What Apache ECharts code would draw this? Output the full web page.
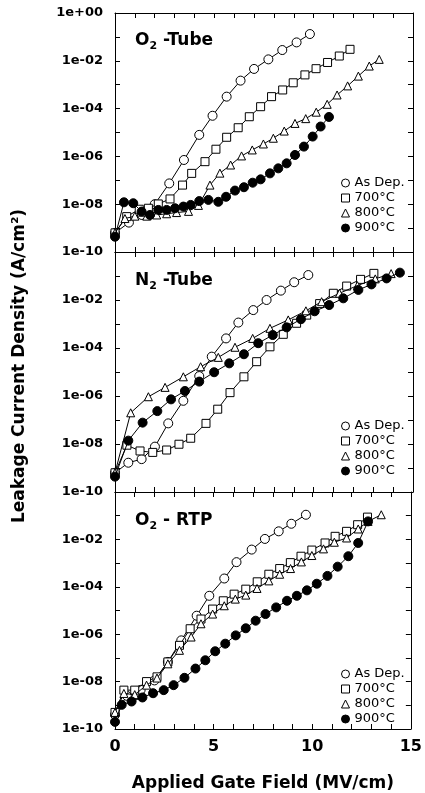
<!DOCTYPE html>
<html><head><meta charset="utf-8">
<script src="https://cdn.jsdelivr.net/npm/echarts@6/dist/echarts.min.js"></script>
<style>html,body{margin:0;padding:0;background:#fff}#c{width:425px;height:793px}</style>
</head><body><div id="c"></div><script>
// ---------- data (x: MV/cm, y: log10 of leakage current density A/cm^2) ----------
const seriesNames = ['As Dep.', '700°C', '800°C', '900°C'];
const panelTitles = ['O2 -Tube', 'N2 -Tube', 'O2 - RTP'];
const xTickLabels = [0, 5, 10, 15];
const yTickLabels = ['1e+00', '1e-02', '1e-04', '1e-06', '1e-08', '1e-10'];

// Panel 1: O2-Tube
const o2TubeAsDepX = [0, 0.7, 1.35, 2.0, 2.73, 3.47, 4.24, 4.91, 5.62, 6.32, 7.0, 7.72, 8.42, 9.14, 9.81];
const o2TubeAsDepY = [-9.2, -8.77, -8.45, -8.0, -7.13, -6.15, -5.10, -4.30, -3.50, -2.83, -2.34, -1.94, -1.55, -1.23, -0.88];
const o2Tube700X = [0, 0.59, 1.22, 1.68, 2.18, 2.77, 3.4, 3.86, 4.53, 5.08, 5.62, 6.2, 6.76, 7.33, 7.88, 8.44, 8.97, 9.56, 10.12, 10.7, 11.29, 11.83];
const o2Tube700Y = [-9.2, -8.52, -8.21, -8.17, -7.99, -7.78, -7.2, -6.71, -6.22, -5.70, -5.20, -4.80, -4.34, -3.92, -3.50, -3.22, -2.92, -2.59, -2.33, -2.07, -1.80, -1.52];
const o2Tube800X = [0, 0.5, 1.0, 1.6, 2.1, 2.6, 3.1, 3.7, 4.2, 4.78, 5.28, 5.82, 6.37, 6.91, 7.47, 7.97, 8.52, 9.06, 9.6, 10.13, 10.68, 11.18, 11.71, 12.25, 12.8, 13.3];
const o2Tube800Y = [-9.2, -8.6, -8.5, -8.5, -8.45, -8.4, -8.35, -8.3, -8.05, -7.2, -6.7, -6.36, -5.98, -5.73, -5.48, -5.24, -4.94, -4.62, -4.42, -4.15, -3.82, -3.43, -3.05, -2.64, -2.22, -1.94];
const o2Tube900X = [0, 0.45, 0.92, 1.34, 1.76, 2.18, 2.6, 3.02, 3.44, 3.81, 4.24, 4.7, 5.2, 5.59, 6.04, 6.49, 6.93, 7.33, 7.8, 8.22, 8.64, 9.06, 9.51, 9.95, 10.35, 10.77];
const o2Tube900Y = [-9.36, -7.92, -7.96, -8.31, -8.45, -8.24, -8.24, -8.17, -8.1, -8.03, -7.87, -7.82, -7.9, -7.69, -7.43, -7.29, -7.10, -6.96, -6.71, -6.5, -6.29, -5.94, -5.59, -5.17, -4.75, -4.35];

// Panel 2: N2-Tube
const n2TubeAsDepX = [0, 0.67, 1.34, 2.01, 2.68, 3.44, 4.24, 4.87, 5.59, 6.21, 6.96, 7.63, 8.35, 9.02, 9.73];
const n2TubeAsDepY = [-9.2, -8.78, -8.63, -8.11, -7.14, -6.2, -5.17, -4.36, -3.6, -2.94, -2.42, -2.0, -1.61, -1.26, -0.96];
const n2Tube700X = [0, 0.6, 1.26, 1.9, 2.6, 3.22, 3.81, 4.58, 5.17, 5.79, 6.49, 7.13, 7.8, 8.47, 9.14, 9.65, 10.3, 10.99, 11.66, 12.36, 13.03];
const n2Tube700Y = [-9.2, -8.05, -8.29, -8.35, -8.25, -8.01, -7.76, -7.14, -6.55, -5.86, -5.2, -4.57, -3.95, -3.43, -2.97, -2.63, -2.15, -1.72, -1.42, -1.14, -0.89];
const n2Tube800X = [0, 0.79, 1.68, 2.52, 3.44, 4.31, 5.2, 6.04, 6.93, 7.8, 8.72, 9.61, 10.4, 11.3, 12.2, 13.1, 13.9];
const n2Tube800Y = [-9.2, -6.7, -6.03, -5.64, -5.2, -4.78, -4.39, -3.97, -3.6, -3.18, -2.83, -2.45, -2.07, -1.72, -1.4, -1.12, -0.9];
const n2Tube900X = [0, 0.67, 1.39, 2.13, 2.82, 3.52, 4.24, 4.99, 5.75, 6.49, 7.21, 7.94, 8.64, 9.36, 10.05, 10.78, 11.49, 12.25, 12.91, 13.67, 14.34];
const n2Tube900Y = [-9.36, -7.86, -7.11, -6.63, -6.14, -5.79, -5.4, -5.01, -4.64, -4.26, -3.8, -3.46, -3.14, -2.8, -2.47, -2.21, -1.93, -1.58, -1.35, -1.1, -0.86];

// Panel 3: O2 - RTP
const o2RtpAsDepX = [0, 0.6, 1.3, 2.0, 2.68, 3.36, 4.14, 4.78, 5.54, 6.16, 6.93, 7.6, 8.3, 8.94, 9.68];
const o2RtpAsDepY = [-9.4, -8.6, -8.35, -7.95, -7.17, -6.26, -5.22, -4.38, -3.65, -2.96, -2.43, -1.98, -1.66, -1.34, -0.96];
const o2Rtp700X = [0, 0.45, 1.0, 1.6, 2.13, 2.68, 3.27, 3.81, 4.36, 4.95, 5.49, 6.04, 6.63, 7.21, 7.8, 8.35, 8.89, 9.43, 9.98, 10.65, 11.16, 11.74, 12.3, 12.8];
const o2Rtp700Y = [-9.3, -8.36, -8.36, -8.0, -7.8, -7.17, -6.47, -5.77, -5.36, -4.94, -4.59, -4.31, -4.1, -3.79, -3.47, -3.23, -2.98, -2.71, -2.45, -2.15, -1.87, -1.66, -1.38, -1.06];
const o2Rtp800X = [0, 0.45, 1.0, 1.6, 2.13, 2.68, 3.27, 3.86, 4.36, 4.95, 5.54, 6.1, 6.63, 7.2, 7.8, 8.35, 8.9, 9.45, 9.98, 10.57, 11.12, 11.74, 12.33, 12.83, 13.5];
const o2Rtp800Y = [-9.3, -8.5, -8.55, -8.15, -7.85, -7.25, -6.68, -6.12, -5.56, -5.15, -4.8, -4.52, -4.35, -4.07, -3.75, -3.47, -3.23, -2.95, -2.68, -2.4, -2.12, -1.94, -1.56, -1.24, -0.96];
const o2Rtp900X = [0, 0.34, 0.84, 1.39, 1.93, 2.47, 2.97, 3.52, 4.08, 4.58, 5.08, 5.59, 6.12, 6.63, 7.13, 7.63, 8.17, 8.72, 9.22, 9.73, 10.23, 10.77, 11.29, 11.83, 12.33, 12.83];
const o2Rtp900Y = [-9.7, -8.98, -8.84, -8.67, -8.49, -8.36, -8.15, -7.84, -7.45, -7.1, -6.72, -6.4, -6.05, -5.75, -5.43, -5.15, -4.87, -4.59, -4.38, -4.15, -3.87, -3.54, -3.15, -2.71, -2.15, -1.24];

// ---------- chart ----------
const FONT = '"DejaVu Sans", Arial, sans-serif';
const panels = [
  [[o2TubeAsDepX, o2TubeAsDepY], [o2Tube700X, o2Tube700Y], [o2Tube800X, o2Tube800Y], [o2Tube900X, o2Tube900Y]],
  [[n2TubeAsDepX, n2TubeAsDepY], [n2Tube700X, n2Tube700Y], [n2Tube800X, n2Tube800Y], [n2Tube900X, n2Tube900Y]],
  [[o2RtpAsDepX, o2RtpAsDepY], [o2Rtp700X, o2Rtp700Y], [o2Rtp800X, o2Rtp800Y], [o2Rtp900X, o2Rtp900Y]]
];
const symbols = ['circle', 'rect', 'triangle', 'circle'];
const symbolSizes = [9, 8, 8, 9];
const fills = ['#fff', '#fff', '#fff', '#000'];

const gridTops = [13, 252, 492];
const gridHeights = [239, 240, 239];
const grids = gridTops.map((t, i) => ({ left: 115, right: 12, top: t, height: gridHeights[i] }));

const axisLine = { show: true, onZero: false, lineStyle: { color: '#000', width: 1 } };
const tick = { show: true, inside: true, length: 5, lineStyle: { color: '#000', width: 1 } };

function xAx(gi, pos, showLabels, withName) {
  const a = {
    type: 'value', gridIndex: gi, position: pos, min: 0, max: 15, interval: 1,
    axisLine, axisTick: tick, splitLine: { show: false },
    axisLabel: {
      show: showLabels, margin: 10, fontSize: 16, fontWeight: 'bold', color: '#000', fontFamily: FONT,
      formatter: v => (xTickLabels.indexOf(v) >= 0 ? String(v) : '')
    }
  };
  if (withName) {
    a.name = 'Applied Gate Field (MV/cm)';
    a.nameLocation = 'middle';
    a.nameGap = 46;
    a.nameTextStyle = { fontSize: 17, fontWeight: 'bold', color: '#000', fontFamily: FONT };
  }
  return a;
}
function yAx(gi, pos, showLabels, hideTop) {
  return {
    type: 'log', logBase: 10, gridIndex: gi, position: pos, min: 1e-10, max: 1, interval: 1, splitNumber: 10,
    axisLine, axisTick: tick, splitLine: { show: false },
    axisLabel: {
      show: showLabels, margin: 12, fontSize: 13, fontWeight: 'bold', color: '#000', fontFamily: FONT,
      formatter: v => {
        const e = Math.round(Math.log10(v));
        const s = '1e' + (e < 0 ? '-' : '+') + String(Math.abs(e)).padStart(2, '0');
        if (hideTop && e === 0) return '';
        return yTickLabels.indexOf(s) >= 0 ? s : '';
      }
    }
  };
}

const xAxes = [], yAxes = [];
for (let g = 0; g < 3; g++) xAxes.push(xAx(g, 'bottom', g === 2, g === 2));
for (let g = 0; g < 3; g++) xAxes.push(xAx(g, 'top', false, false));
for (let g = 0; g < 3; g++) yAxes.push(yAx(g, 'left', true, g > 0));
for (let g = 0; g < 3; g++) yAxes.push(yAx(g, 'right', false, false));

const series = [];
panels.forEach((panel, g) => {
  panel.forEach((pair, k) => {
    const [xs, ys] = pair;
    series.push({
      type: 'line', name: seriesNames[k], xAxisIndex: g, yAxisIndex: g,
      data: xs.map((x, i) => [x, Math.pow(10, ys[i])]),
      symbol: symbols[k], symbolSize: symbolSizes[k], showSymbol: true,
      lineStyle: { color: '#000', width: 1 },
      itemStyle: { color: fills[k], borderColor: '#000', borderWidth: 1 },
      animation: false, z: 3 + k
    });
  });
});

const legendItems = seriesNames.map((n, k) => ({
  name: n, icon: symbols[k],
  itemStyle: { color: fills[k], borderColor: '#000', borderWidth: 1 }
}));
const legendTops = [176, 419, 667];
const legends = legendTops.map(t => ({
  orient: 'vertical', left: 341, top: t, itemWidth: 8, itemHeight: 8, itemGap: 1, padding: 0,
  selectedMode: false,
  textStyle: { fontSize: 13, lineHeight: 14, color: '#000', fontFamily: FONT },
  data: legendItems
}));

const titleRich = {
  a: { fontSize: 17, fontWeight: 'bold', fontFamily: FONT, color: '#000', lineHeight: 22, verticalAlign: 'middle' },
  s: { fontSize: 11, fontWeight: 'bold', fontFamily: FONT, color: '#000', lineHeight: 11, verticalAlign: 'bottom' }
};
const titleTops = [30, 270, 510];
const titles = panelTitles.map((t, i) => {
  const m = t.match(/^([A-Z])2(.*)$/);
  return {
    left: 135, top: titleTops[i], padding: 0,
    text: '{a|' + m[1] + '}{s|2}{a|' + m[2] + '}',
    textStyle: { rich: titleRich }
  };
});

const chart = echarts.init(document.getElementById('c'), null, { renderer: 'canvas' });
chart.setOption({
  backgroundColor: '#fff',
  animation: false,
  title: titles,
  legend: legends,
  grid: grids,
  xAxis: xAxes,
  yAxis: yAxes,
  series: series,
  graphic: [{
    type: 'text', x: 20, y: 366, rotation: Math.PI / 2,
    style: {
      text: 'Leakage Current Density (A/cm²)', fontSize: 17, fontWeight: 'bold', fontFamily: FONT,
      fill: '#000', align: 'center', verticalAlign: 'middle'
    }
  }]
});
</script></body></html>
